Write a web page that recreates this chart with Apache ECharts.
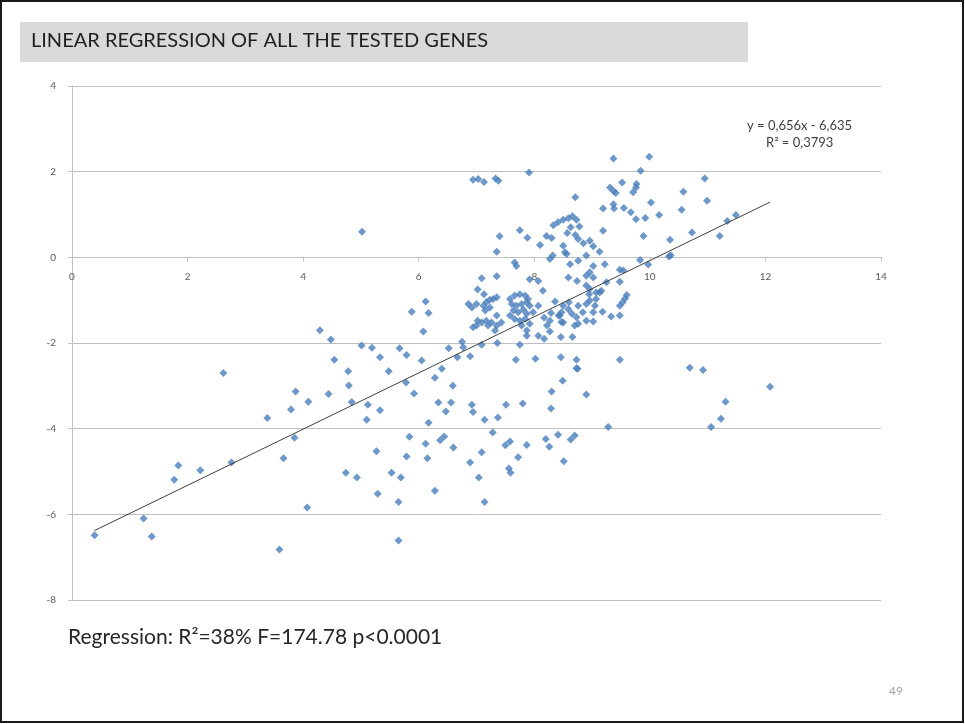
<!DOCTYPE html>
<html>
<head>
<meta charset="utf-8">
<title>Linear regression of all the tested genes</title>
<script src="https://cdn.jsdelivr.net/npm/echarts@6/dist/echarts.min.js"></script>
<style>
  html, body { margin: 0; padding: 0; background: #ffffff; }
  #chart { width: 965px; height: 724px; }
</style>
</head>
<body>
<div id="chart"></div>
<script>
// Expression values per gene (x) against the response (y)
const geneX = [
  4.29, 4.48, 4.54, 2.62, 3.87, 4.44, 4.09, 3.79, 3.38, 3.85, 1.84, 2.22, 2.76, 1.77, 3.66, 4.07, 1.24, 0.39, 1.38, 3.59,
  4.78, 5.48, 4.79, 5.78, 6.28, 6.59, 6.40, 5.92, 4.84, 5.12, 5.33, 5.10, 6.34, 6.56, 6.47, 6.17, 6.92, 6.94, 7.14, 7.37,
  7.51, 7.80, 8.30, 8.49, 8.75, 8.90, 8.29, 7.28, 5.84, 5.27, 6.12, 6.37, 6.44, 6.60, 5.79, 6.15, 7.09, 6.89, 7.50, 7.58,
  7.87, 7.72, 7.56, 7.59, 8.20, 8.26, 8.41, 8.63, 8.70, 8.51, 9.28, 4.74, 4.93, 5.53, 5.69, 5.29, 5.65, 6.28, 7.04, 7.14,
  5.65,
  10.69, 10.92, 12.08, 11.31, 11.23, 11.06,
  9.37, 9.99, 9.84, 10.95, 9.52, 9.77, 9.76, 9.71, 9.31, 9.37, 9.41, 10.58, 10.99, 10.02, 9.37, 9.38, 9.19, 9.55, 9.67, 10.55,
  9.76, 9.92, 10.16, 11.49, 11.34, 9.19, 9.89, 10.73, 11.21, 10.35, 9.13, 10.36, 10.33, 9.83, 9.97, 9.22, 9.48, 9.54, 9.48, 9.13,
  9.60, 9.57, 9.53, 9.48, 9.18, 9.33, 9.48, 9.48,
  5.02, 6.94, 7.03, 7.13, 7.33, 7.38, 7.91, 8.71, 7.40, 7.75, 7.88, 7.35, 8.10, 8.21, 8.30,
  8.33, 8.41, 8.50, 8.59, 8.66, 8.73, 8.78, 8.63, 8.71, 8.57,
  8.50, 8.53, 8.56, 8.32, 8.27, 8.76, 8.85, 8.96, 9.02, 8.90, 8.62, 8.76,
  7.66, 7.69, 7.92, 8.07, 8.15, 9.02, 8.96, 8.90, 9.02, 8.59, 8.74, 8.90,
  7.09, 7.35, 7.02, 7.13, 6.86, 6.92, 7.12, 7.17, 7.23, 7.29, 7.35, 7.23, 7.15,
  7.58, 7.66, 7.75, 7.84, 7.89, 7.61, 7.69, 7.78, 7.87, 7.92, 7.64, 7.72, 7.81, 7.87, 7.58, 7.66, 7.75, 7.84, 7.92, 7.98, 8.07,
  7.02, 7.09, 7.17, 6.94, 7.35, 7.43, 7.32, 7.36, 7.75, 7.87, 7.78,
  8.27, 8.22, 8.27, 8.17, 8.46, 8.66, 8.36, 8.47, 8.59, 8.65, 8.73,
  8.60, 8.76, 8.90, 9.02, 8.90, 9.02, 8.76, 8.95, 9.07, 9.16, 9.25,
  8.02, 7.68, 8.46, 8.73, 8.73,
  5.88, 6.12, 6.17, 6.08, 6.52, 6.75, 6.77, 6.89, 6.67, 7.09,
  5.01, 5.19, 5.33, 5.67, 5.79, 6.05,
  8.50, 8.42, 8.47, 8.29, 8.17, 7.00, 7.35, 7.26, 7.20, 7.00, 7.87, 8.07,
  8.96, 9.07, 8.96, 9.05, 8.84, 8.70, 8.44, 8.50
];
const geneY = [
  -1.70, -1.92, -2.39, -2.70, -3.13, -3.19, -3.37, -3.55, -3.75, -4.21, -4.86, -4.97, -4.79, -5.19, -4.69, -5.84, -6.10, -6.49, -6.52, -6.82,
  -2.66, -2.66, -2.99, -2.92, -2.81, -3.00, -2.60, -3.18, -3.38, -3.44, -3.57, -3.79, -3.39, -3.39, -3.60, -3.86, -3.44, -3.61, -3.79, -3.74,
  -3.44, -3.41, -3.13, -2.88, -2.60, -3.20, -3.53, -4.09, -4.19, -4.53, -4.35, -4.27, -4.18, -4.44, -4.65, -4.69, -4.55, -4.79, -4.39, -4.30,
  -4.38, -4.67, -4.93, -5.03, -4.24, -4.42, -4.14, -4.25, -4.16, -4.76, -3.96, -5.03, -5.14, -5.03, -5.14, -5.52, -5.71, -5.45, -5.14, -5.71,
  -6.61,
  -2.58, -2.63, -3.02, -3.37, -3.77, -3.96,
  2.31, 2.35, 2.02, 1.84, 1.75, 1.71, 1.63, 1.52, 1.63, 1.55, 1.50, 1.53, 1.32, 1.28, 1.24, 1.14, 1.14, 1.15, 1.05, 1.11,
  0.89, 0.92, 0.99, 0.99, 0.85, 0.62, 0.50, 0.58, 0.50, 0.41, 0.13, 0.05, 0.02, -0.06, -0.17, -0.16, -0.29, -0.31, -0.57, -0.82,
  -0.88, -0.96, -1.05, -1.13, -1.27, -1.38, -1.36, -2.39,
  0.60, 1.81, 1.83, 1.76, 1.84, 1.79, 1.98, 1.40, 0.49, 0.63, 0.46, 0.13, 0.29, 0.50, 0.45,
  0.75, 0.82, 0.88, 0.91, 0.96, 0.88, 0.72, 0.70, 0.52, 0.57,
  0.27, 0.12, 0.08, 0.04, -0.04, 0.43, 0.33, 0.39, 0.26, 0.04, -0.16, -0.08,
  -0.12, -0.20, -0.51, -0.55, -0.78, -0.20, -0.35, -0.43, -0.47, -0.47, -0.55, -0.66,
  -0.49, -0.44, -0.75, -0.86, -1.09, -1.17, -1.13, -1.05, -0.99, -0.97, -0.93, -1.17, -1.24,
  -0.97, -0.89, -0.86, -0.89, -0.97, -1.09, -1.13, -1.09, -1.05, -1.13, -1.24, -1.28, -1.22, -1.32, -1.36, -1.44, -1.48, -1.44, -1.55, -1.28, -1.13,
  -1.48, -1.52, -1.48, -1.63, -1.59, -1.52, -1.71, -2.00, -2.04, -1.71, -1.59,
  -1.48, -1.59, -1.73, -1.90, -1.86, -1.86, -1.03, -1.28, -1.21, -1.32, -1.40,
  -1.05, -1.13, -1.09, -1.28, -1.48, -1.50, -1.55, -0.86, -0.82, -0.78, -0.58,
  -2.37, -2.39, -2.33, -2.39, -2.59,
  -1.27, -1.03, -1.30, -1.73, -2.12, -1.97, -2.10, -2.31, -2.33, -2.04,
  -2.06, -2.11, -2.33, -2.12, -2.28, -2.41,
  -1.13, -1.36, -1.51, -1.30, -1.41, -1.09, -1.36, -1.52, -1.59, -1.59, -1.83, -1.83,
  -0.74, -0.97, -1.01, -1.13, -1.28, -1.59, -1.36, -1.52
];

// Fitted trend line, as printed on the chart
const slope = 0.656;
const intercept = -6.635;
const rSquared = '0,3793';

const xTicks = { min: 0, max: 14, step: 2 };
const yTicks = { min: -8, max: 4, step: 2 };

const points = geneX.map((x, i) => [x, geneY[i]]);
const xLo = Math.min(...geneX);
const xHi = Math.max(...geneX);
const trend = [[xLo, slope * xLo + intercept], [xHi, slope * xHi + intercept]];

const fmt = v => v.toFixed(3).replace('.', ',');
const equation = 'y = ' + fmt(slope) + 'x - ' + fmt(Math.abs(intercept));

const chart = echarts.init(document.getElementById('chart'), null, { renderer: 'canvas' });
const baseFont = 'Lato, "Open Sans", "Noto Sans", sans-serif';
const gridBox = { left: 72, right: 84, top: 86, bottom: 124 };

chart.setOption({
  backgroundColor: '#ffffff',
  animation: false,
  textStyle: { fontFamily: baseFont },
  grid: Object.assign({ containLabel: false }, gridBox),
  xAxis: {
    type: 'value',
    position: 'bottom',
    min: xTicks.min, max: xTicks.max, interval: xTicks.step,
    axisLine: { onZero: false, lineStyle: { color: '#bfbfbf', width: 1 } },
    axisTick: { show: true, length: 4, lineStyle: { color: '#bfbfbf' } },
    axisLabel: { color: '#595959', fontSize: 10, margin: 14, fontFamily: baseFont },
    splitLine: { show: false }
  },
  yAxis: {
    type: 'value',
    min: yTicks.min, max: yTicks.max, interval: yTicks.step,
    axisLine: { show: true, lineStyle: { color: '#bfbfbf', width: 1 } },
    axisTick: { show: true, length: 4, lineStyle: { color: '#bfbfbf' } },
    axisLabel: { color: '#595959', fontSize: 10, margin: 16, fontFamily: baseFont },
    splitLine: { show: true, lineStyle: { color: '#bfbfbf', width: 1 } }
  },
  series: [
    {
      name: 'genes',
      type: 'scatter',
      data: points,
      symbol: 'diamond',
      symbolSize: 8,
      itemStyle: { color: '#4a7ebb' },
      z: 3
    },
    {
      name: 'trend',
      type: 'line',
      data: trend,
      symbol: 'none',
      lineStyle: { color: '#404040', width: 1 },
      z: 4
    }
  ],
  graphic: [
    {
      type: 'rect',
      shape: { x: 1, y: 1, width: 962, height: 721 },
      style: { fill: 'none', stroke: '#1a1a1a', lineWidth: 2 },
      silent: true
    },
    {
      type: 'rect',
      shape: { x: 20, y: 22, width: 728, height: 40 },
      style: { fill: '#d9d9d9' },
      silent: true
    },
    {
      type: 'text',
      left: 31, top: 31,
      style: {
        text: 'LINEAR REGRESSION OF ALL THE TESTED GENES',
        fill: '#1f1f1f',
        font: '20px ' + baseFont
      }
    },
    {
      type: 'text',
      left: 747, top: 119,
      style: { text: equation, fill: '#404040', font: '13px ' + baseFont }
    },
    {
      type: 'text',
      left: 766, top: 136,
      style: { text: 'R² = ' + rSquared, fill: '#404040', font: '13px ' + baseFont }
    },
    {
      type: 'text',
      left: 68, top: 627,
      style: {
        text: 'Regression: R²=38% F=174.78 p<0.0001',
        fill: '#262626',
        font: '21px ' + baseFont
      }
    },
    {
      type: 'text',
      left: 889, top: 685,
      style: { text: '49', fill: '#a6a6a6', font: '12px ' + baseFont }
    }
  ]
});

// The x axis crosses the y axis at zero, so lift it from the grid's bottom edge to y = 0
const zeroPx = chart.convertToPixel({ yAxisIndex: 0 }, 0);
const bottomPx = chart.convertToPixel({ yAxisIndex: 0 }, yTicks.min);
chart.setOption({ xAxis: { offset: zeroPx - bottomPx } });
</script>
</body>
</html>
